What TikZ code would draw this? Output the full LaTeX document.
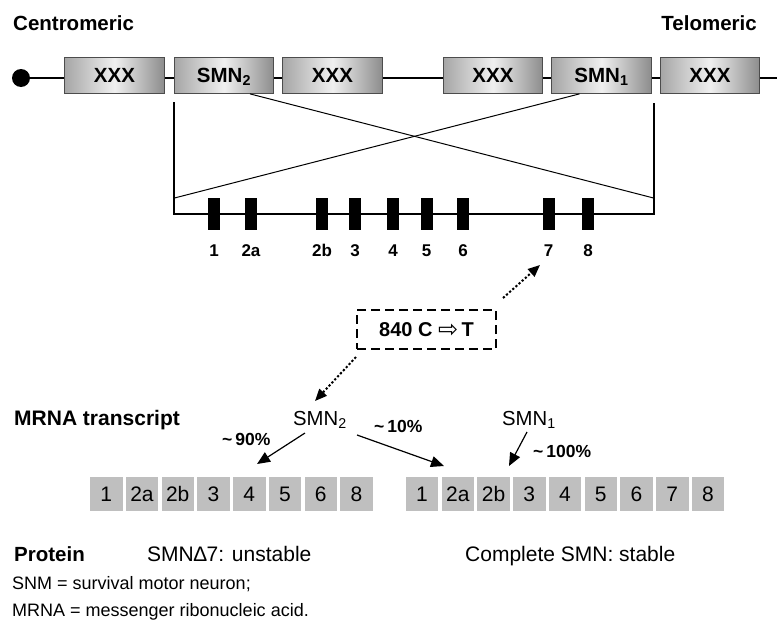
\documentclass[tikz,border=0pt]{standalone}
\usepackage{fontspec}
\setmainfont{Liberation Sans}
\newfontfamily\djv{DejaVu Sans}
\usetikzlibrary{arrows.meta,calc}
\newcommand\fsz[1]{\fontsize{#1}{#1}\selectfont}
\begin{document}
\begin{tikzpicture}[x=1pt,y=-1pt,
  txt/.style={inner sep=0pt, anchor=base west},
  hdr/.style={txt, font=\bfseries\fsz{20.5}},
  reg/.style={txt, font=\fsz{21}},
  gene/.style={draw=black!70, line width=0.8pt, left color=black!35, right color=black!45, middle color=black!6,
    minimum width=99.5pt, minimum height=36pt, inner sep=0pt, text height=14.7pt, text depth=0pt,
    font=\bfseries\fsz{20.5}},
  exon/.style={fill=black, minimum width=12pt, minimum height=32pt, inner sep=0pt},
  exlab/.style={inner sep=0pt, anchor=base, font=\bfseries\fsz{17}},
  tb/.style={fill=black!25, minimum width=32.5pt, minimum height=34pt, inner sep=0pt,
    text height=15pt, text depth=0pt, font=\fsz{21}},
  pct/.style={txt, font=\bfseries\fsz{17.5}},
  arr/.style={line width=1.2pt, -{Triangle[length=13pt,width=11pt]}},
  dotarr/.style={line width=2pt, dash pattern=on 2.2pt off 2pt, -{Triangle[length=12pt,width=10pt]}},
  thin/.style={line width=1pt},
]
\useasboundingbox (0,0) rectangle (777,624);

% headers
\node[hdr] (cen) at (13,30.7) {Centromeric};
\node[hdr, anchor=base east] (tel) at (757,30.7) {Telomeric};

% chromosome
\coordinate (cend) at (777,78);
\node[circle, fill=black, minimum size=18pt, inner sep=0pt] (dot) at (21,78) {};
\draw[line width=2.8pt] (dot.center) -- (cend);
\node[gene] (x1) at (114.5,75.5) {XXX};
\node[gene] (smn2) at (224,75.5) {SMN\textsubscript{2}};
\node[gene] (x2) at (332.5,75.5) {XXX};
\node[gene] (x3) at (493,75.5) {XXX};
\node[gene] (smn1) at (601.5,75.5) {SMN\textsubscript{1}};
\node[gene] (x4) at (710,75.5) {XXX};

% bracket and crossing lines
\coordinate (btl) at (174,102);
\coordinate (bbl) at (174,214);
\coordinate (bbr) at (654,214);
\coordinate (btr) at (654,103);
\coordinate (cl) at (174.5,198);
\coordinate (cr) at (653.5,198);
\draw[line width=1.4pt] (btl) -- (bbl) -- (bbr) -- (btr);
\draw[thin] ($(smn2.south west)!0.76!(smn2.south east)$) -- (cr);
\draw[thin] ($(smn1.south west)!0.28!(smn1.south east)$) -- (cl);

% exons
\foreach \x/\l [count=\i] in {214/1,251/2a,322/2b,355/3,393/4,426.5/5,463/6,548.5/7,588/8}{
  \node[exon] (e\i) at (\x,214) {};
  \node[exlab] (el\i) at (\x,256.7) {\l};
}

% mutation box
\node[draw, line width=2.2pt, dash pattern=on 9pt off 5pt, minimum width=139pt, minimum height=39pt,
  inner sep=0pt, text height=14.7pt, text depth=0pt, font=\bfseries\fsz{20}] (mut) at (426.5,329.5)
  {840 C {\djv\mdseries\fsz{24}\raisebox{-1pt}{⇨}}\,T};
\coordinate (d1s) at (503,298);
\coordinate (d1e) at (540,265);
\coordinate (d2s) at (356,357);
\coordinate (d2e) at (315,401);
\draw[dotarr] (d1s) -- (d1e);
\draw[dotarr] (d2s) -- (d2e);

% mRNA section
\node[txt, font=\bfseries\fsz{21}] (mrna) at (14,425) {MRNA transcript};
\node[txt, font=\fsz{20.3}] (s2) at (293,425) {SMN\textsubscript{2}};
\node[txt, font=\fsz{20.3}] (s1) at (502,425) {SMN\textsubscript{1}};
\node[pct] (p90) at (222,445) {\textasciitilde\,90\%};
\node[pct] (p10) at (374,432) {\textasciitilde\,10\%};
\node[pct] (p100) at (533,457) {\textasciitilde\,100\%};
\coordinate (a1s) at (305,433);
\coordinate (a1e) at (257,464);
\coordinate (a2s) at (357,435);
\coordinate (a2e) at (444,466);
\coordinate (a3s) at (527,432);
\coordinate (a3e) at (509,466);
\draw[arr] (a1s) -- (a1e);
\draw[arr] (a2s) -- (a2e);
\draw[arr] (a3s) -- (a3e);

\foreach \l [count=\i from 0] in {1,2a,2b,3,4,5,6,8}
  \node[tb] (ta\i) at ({106.25+35.75*\i},494) {\l};
\foreach \l [count=\i from 0] in {1,2a,2b,3,4,5,6,7,8}
  \node[tb] (tb\i) at ({422+35.75*\i},494) {\l};

% protein
\node[txt, font=\bfseries\fsz{20.5}] (prot) at (14,561) {Protein};
\node[reg] (unst) at (147,561) {SMN∆7: unstable};
\node[reg] (stab) at (465,561) {Complete SMN: stable};

% footnotes
\node[txt, font=\fsz{18}] (f1) at (12,589) {SNM = survival motor neuron;};
\node[txt, font=\fsz{18}] (f2) at (12,616) {MRNA = messenger ribonucleic acid.};
\end{tikzpicture}
\end{document}
